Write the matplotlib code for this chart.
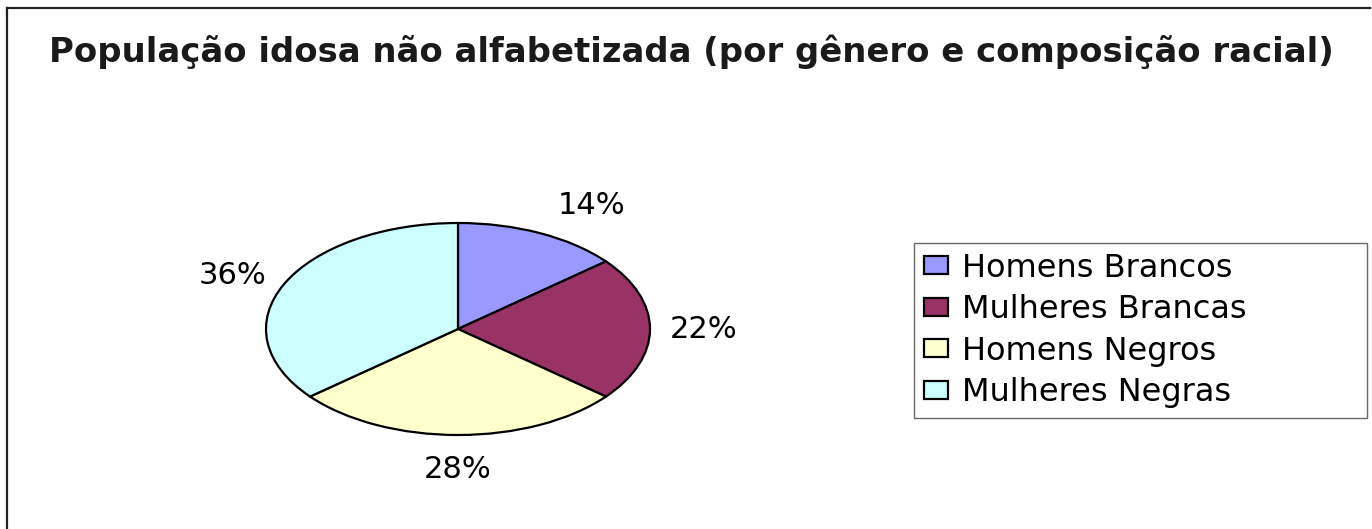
import matplotlib

matplotlib.use("Agg")
import matplotlib.pyplot as plt
import numpy as np
from matplotlib.lines import Line2D
from matplotlib.patches import Patch

# Dados do grafico
categorias = ["Homens Brancos", "Mulheres Brancas", "Homens Negros", "Mulheres Negras"]
valores = [14, 22, 28, 36]
cores = ["#9999FF", "#993366", "#FFFFCC", "#CCFFFF"]
titulo = "População idosa não alfabetizada (por gênero e composição racial)"

W, H = 1372, 529
fig = plt.figure(figsize=(W / 100, H / 100), dpi=100)
fig.patch.set_facecolor("white")

# moldura (apenas topo e esquerda, como no original)
fig.add_artist(Line2D([7 / W, 1370 / W], [1 - 8 / H, 1 - 8 / H], color="#222222", lw=1.6))
fig.add_artist(Line2D([7 / W, 7 / W], [0, 1 - 8 / H], color="#222222", lw=1.6))

fig.text(691 / W, 1 - 52 / H, titulo, ha="center", va="center",
         fontsize=24.4, fontweight="bold", family="DejaVu Sans", color="#1a1a1a")

# pizza eliptica: eixo esticado
cx, cy, rx, ry = 458, 329, 192, 106
ax = fig.add_axes([(cx - rx) / W, (H - cy - ry) / H, 2 * rx / W, 2 * ry / H])
wedges, _ = ax.pie(valores, colors=cores, startangle=90, counterclock=False,
                   wedgeprops=dict(edgecolor="black", linewidth=1.6))
ax.set_aspect("auto")
ax.set_xlim(-1, 1)
ax.set_ylim(-1, 1)

# rotulos de porcentagem fora da borda
fonte = dict(family="DejaVu Sans", fontsize=22, color="black")
acum = np.cumsum([0] + valores)
for i, v in enumerate(valores):
    ang = np.deg2rad(90 - (acum[i] + v / 2) * 3.6)
    c, s = np.cos(ang), np.sin(ang)
    ha = "left" if c > 0.1 else ("right" if c < -0.1 else "center")
    va = "bottom" if s > 0.5 else ("top" if s < -0.5 else "center")
    gap = 20 if va != "bottom" else 15
    dx = gap * c + (12 if va == "bottom" else 0)
    ax.annotate(f"{v}%", xy=(c, s), xytext=(dx, gap * s),
                textcoords="offset pixels", ha=ha, va=va, **fonte)

handles = [Patch(facecolor=cor, edgecolor="black", linewidth=1.6) for cor in cores]
leg = fig.legend(handles, categorias, loc="upper left", mode="expand",
                 bbox_to_anchor=(914 / W, 1 - 243 / H, 453 / W, 0),
                 prop=dict(family="DejaVu Sans", size=23),
                 frameon=True, fancybox=False, edgecolor="#444444",
                 handlelength=0.75, handleheight=0.5, handletextpad=0.45,
                 labelspacing=0.33, borderpad=0.3, borderaxespad=0)
leg.get_frame().set_linewidth(1.0)

fig.savefig("out.png", dpi=100)
